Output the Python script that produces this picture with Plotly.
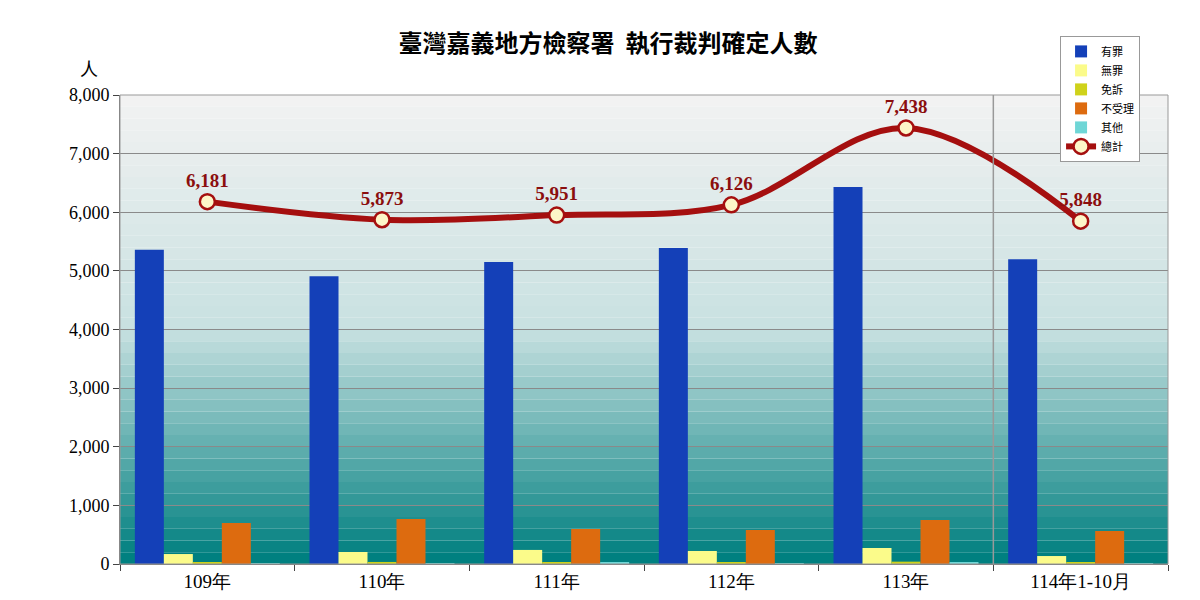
import plotly.graph_objects as go

categories = ["109年", "110年", "111年", "112年", "113年", "114年1-10月"]
guilty = [5360, 4910, 5150, 5390, 6430, 5200]
not_guilty = [170, 205, 240, 222, 273, 136]
exempt = [30, 35, 30, 25, 40, 25]
dismissed = [700, 768, 597, 580, 750, 563]
other = [15, 15, 20, 15, 20, 15]
total = [6181, 5873, 5951, 6126, 7438, 5848]
total_labels = ["<b>6,181</b>", "<b>5,873</b>", "<b>5,951</b>", "<b>6,126</b>", "<b>7,438</b>", "<b>5,848</b>"]

fig = go.Figure()
series = [("有罪", guilty, "#1440b8"), ("無罪", not_guilty, "#fbfb8a"),
          ("免訴", exempt, "#cfd21a"), ("不受理", dismissed, "#dd6b0f"),
          ("其他", other, "#6fd6d6")]
for name, vals, col in series:
    fig.add_trace(go.Bar(x=categories, y=vals, name=name, marker_color=col,
                         marker_line_width=0))
fig.add_trace(go.Scatter(x=categories, y=total, name="總計", mode="lines+markers+text",
                         line=dict(color="#a50f0f", width=6, shape="spline"),
                         marker=dict(size=15, color="#fdf6c8", line=dict(color="#a50f0f", width=2.5)),
                         text=total_labels, textposition="top center",
                         textfont=dict(family="Liberation Serif", size=19, color="#8b0e0e")))

shapes = []
n = 40
top = (242, 242, 242); mid = (200, 225, 225); bot = (0, 128, 128)
for i in range(n):
    t = i / (n - 1)
    if t < 0.5:
        c = [int(top[k] + (mid[k] - top[k]) * t / 0.5) for k in range(3)]
    else:
        c = [int(mid[k] + (bot[k] - mid[k]) * (t - 0.5) / 0.5) for k in range(3)]
    shapes.append(dict(type="rect", xref="paper", yref="paper", x0=0, x1=1,
                       y0=1 - (i + 1) / n, y1=1 - i / n, fillcolor=f"rgb({c[0]},{c[1]},{c[2]})",
                       line_width=0, layer="below"))
shapes.append(dict(type="line", xref="paper", yref="paper", x0=5/6, x1=5/6, y0=0, y1=1,
                   line=dict(color="#999999", width=1.5)))
shapes.append(dict(type="rect", xref="paper", yref="paper", x0=0, x1=1, y0=0, y1=1,
                   line=dict(color="#999999", width=1)))

fig.update_layout(
    width=1200, height=600,
    margin=dict(l=112, r=40, t=87, b=44, autoexpand=False),
    paper_bgcolor="white", plot_bgcolor="rgba(0,0,0,0)",
    barmode="group", bargap=0.17, bargroupgap=0,
    shapes=shapes,
    title=dict(text="<b>臺灣嘉義地方檢察署  執行裁判確定人數</b>", x=0.5, xanchor="center", y=0.955,
               font=dict(family="Noto Sans CJK TC", size=24, color="black")),
    font=dict(family="Liberation Serif", color="black"),
    legend=dict(x=0.897, y=1.126, xanchor="left", yanchor="top", bgcolor="white",
                bordercolor="#999999", borderwidth=1, font=dict(size=11, family="Noto Sans CJK TC"),
                tracegroupgap=0, itemwidth=30),
    showlegend=True,
    annotations=[dict(text="人", xref="paper", yref="paper", x=-0.04, y=1.09,
                      showarrow=False, font=dict(size=18, family="Noto Sans CJK TC"))],
)
fig.update_xaxes(showgrid=False, tickfont=dict(size=19, family="Liberation Serif"),
                 ticks="outside", tickson="boundaries", ticklen=6, linecolor="#777", automargin=False)
fig.update_yaxes(range=[0, 8000], dtick=1000, tickformat=",", gridcolor="#8a8a8a",
                 tickfont=dict(size=18, family="Liberation Serif"), ticks="outside",
                 ticklen=6, linecolor="#777", showline=True, zeroline=False, automargin=False)
fig.write_html("out.html")
